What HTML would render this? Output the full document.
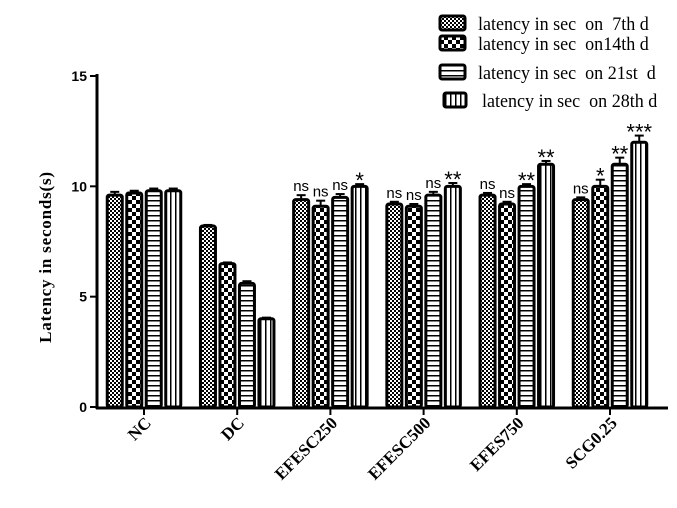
<!DOCTYPE html>
<html><head><meta charset="utf-8"><style>
body{margin:0;background:#fff}
svg{display:block;font-family:"Liberation Serif",serif}
</style></head><body>
<svg width="677" height="508" viewBox="0 0 677 508">
<defs>
<pattern id="p0" width="4" height="4" patternUnits="userSpaceOnUse"><rect width="4" height="4" fill="#fff"/><rect width="2" height="2" fill="#000"/><rect x="2" y="2" width="2" height="2" fill="#000"/></pattern>
<pattern id="p1" width="8" height="8" patternUnits="userSpaceOnUse"><rect width="8" height="8" fill="#fff"/><rect width="4" height="4" fill="#000"/><rect x="4" y="4" width="4" height="4" fill="#000"/></pattern>
<pattern id="p2" width="4" height="5" patternUnits="userSpaceOnUse"><rect width="4" height="5" fill="#fff"/><rect width="4" height="1.5" fill="#000"/></pattern>
<pattern id="p3" width="5" height="4" patternUnits="userSpaceOnUse"><rect width="5" height="4" fill="#fff"/><rect width="1.5" height="4" fill="#000"/></pattern>
</defs>
<g id="plot"></g>
<text transform="translate(51,257) rotate(-90)" text-anchor="middle" font-weight="bold" font-size="17" letter-spacing="0.8">Latency in seconds(s)</text>
<g id="legend"></g>
</svg>
<script>
const categories=["NC","DC","EFESC250","EFESC500","EFES750","SCG0.25"];
const d7=[9.6,8.2,9.4,9.2,9.6,9.4];
const d14=[9.7,6.5,9.1,9.1,9.2,10.0];
const d21=[9.8,5.6,9.5,9.6,10.0,11.0];
const d28=[9.8,4.0,10.0,10.0,11.0,12.0];
const err7=[0.15,0.05,0.2,0.1,0.1,0.1];
const err14=[0.1,0.05,0.25,0.1,0.1,0.3];
const err21=[0.1,0.1,0.15,0.15,0.1,0.3];
const err28=[0.1,0.05,0.1,0.15,0.15,0.3];
const sig7=["","","ns","ns","ns","ns"];
const sig14=["","","ns","ns","ns","*"];
const sig21=["","","ns","ns","**","**"];
const sig28=["","","*","**","**","***"];
const yTicks=[0,5,10,15];
const seriesNames=["latency in sec  on  7th d","latency in sec  on14th d","latency in sec  on 21st  d","latency in sec  on 28th d"];
const series=[d7,d14,d21,d28],errs=[err7,err14,err21,err28],sigs=[sig7,sig14,sig21,sig28];
const NS="http://www.w3.org/2000/svg";
const g=document.getElementById('plot');
function el(t,a,p){const e=document.createElementNS(NS,t);for(const k in a)e.setAttribute(k,a[k]);(p||g).appendChild(e);return e;}
const y=v=>407-v*(331/15);
const xc=i=>144+i*93.2;
const bw=15,step=19.5;
let ax=el('line',{x1:97,y1:74,x2:97,y2:409,stroke:'#000','stroke-width':3});


yTicks.forEach(t=>{
 el('line',{x1:90,y1:y(t),x2:97,y2:y(t),stroke:'#000','stroke-width':2});
 const tx=el('text',{x:87,y:y(t)+5,'text-anchor':'end','font-size':14,'font-weight':'bold','font-family':'Liberation Sans,sans-serif'});
 tx.textContent=t;
 
 
});
let xa=el('line',{x1:96,y1:408,x2:668,y2:408,stroke:'#000','stroke-width':3});


categories.forEach((c,i)=>{
 const cx=xc(i);
 el('line',{x1:cx,y1:408,x2:cx,y2:415,stroke:'#000','stroke-width':2});
 const tx=el('text',{transform:`translate(${cx+8},${424}) rotate(-45)`,'text-anchor':'end','font-size':17,'font-weight':'bold'});
 tx.textContent=c;
 
 
 series.forEach((s,j)=>{
  const bx=cx-1.5*step+j*step-bw/2, top=y(s[i]);
  const r=el('rect',{x:bx,y:top,width:bw,height:407-top,fill:`url(#p${j})`,stroke:'#000','stroke-width':3,rx:2});
  
  
  const et=y(s[i]+errs[j][i]);
  el('line',{x1:bx+bw/2,y1:et,x2:bx+bw/2,y2:top,stroke:'#000','stroke-width':2});
  el('line',{x1:bx+3,y1:et,x2:bx+bw-3,y2:et,stroke:'#000','stroke-width':2});
  if(sigs[j][i]){
   const st=sigs[j][i]==='ns';
   const tx=el('text',{x:bx+bw/2,y:et-(st?4:-4),'text-anchor':'middle','font-size':st?15:22,'font-family':'Liberation Sans,sans-serif'});
   tx.textContent=sigs[j][i];
   
   
  }
 });
});
const lg=document.getElementById('legend');
const ly=[28,48,77,105],lx=[440,440,440,444];
seriesNames.forEach((n,j)=>{
 el('rect',{x:lx[j],y:ly[j]-12,width:j==3?22:25,height:14,fill:`url(#p${j})`,stroke:'#000','stroke-width':3,rx:2},lg);
 const tx=el('text',{x:lx[j]+38,y:ly[j]+2,'font-size':19,transform:`translate(${lx[j]+38},0) scale(0.95,1) translate(${-(lx[j]+38)},0)`},lg);
 tx.setAttribute('style','white-space:pre');
 tx.textContent=n;
 
 
});
</script>
</body></html>
